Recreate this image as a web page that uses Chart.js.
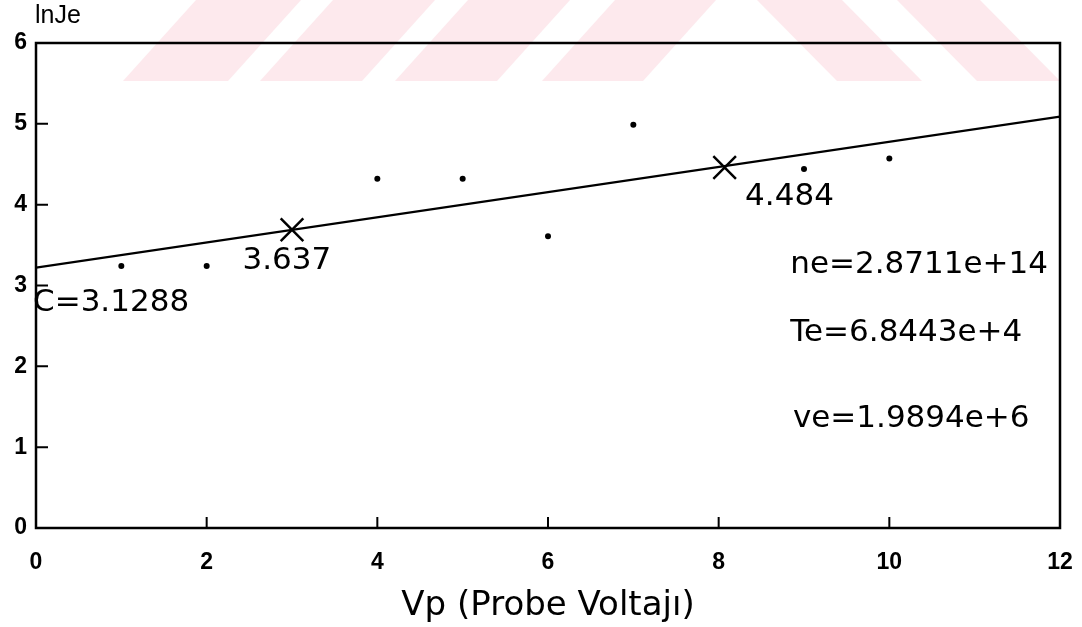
<!DOCTYPE html>
<html>
<head>
<meta charset="utf-8">
<script src="https://cdn.jsdelivr.net/npm/chart.js@4/dist/chart.umd.min.js"></script>
<style>
  html, body { margin: 0; padding: 0; background: #fff; }
  canvas { display: block; }
</style>
</head>
<body>
<canvas id="chart" width="1082" height="627"></canvas>
<script>
// Measured points (probe voltage vs ln of electron current density)
const vpValues = [1, 2, 4, 5, 6, 7, 9, 10];
const lnJeValues = [3.24, 3.24, 4.32, 4.32, 3.61, 4.99, 4.44, 4.57];

// Fitted straight line, end points
const fitX = [0, 12];
const fitY = [3.22, 5.09];

// The two marked points on the line
const markX = [3, 8.07];
const markY = [3.69, 4.46];

// Axis ranges
const xRange = [0, 12];
const yRange = [0, 6];

// Text written on the plot, anchored at data coordinates (left, baseline)
const noteTexts = ["3.637", "4.484", "C=3.1288", "ne=2.8711e+14", "Te=6.8443e+4", "ve=1.9894e+6"];
const noteX = [2.42, 8.31, -0.035, 8.84, 8.84, 8.87];
const noteY = [3.20, 4.00, 2.68, 3.15, 2.31, 1.25];

// Faint thesis watermark behind the top of the plot (page decoration, pixels)
const watermark = [
  [[123, 81], [228, 81], [301, 0], [196, 0]],
  [[260, 81], [362, 81], [435, 0], [333, 0]],
  [[395, 81], [497, 81], [570, 0], [468, 0]],
  [[542, 81], [643, 81], [716, 0], [615, 0]],
  [[837, 81], [922, 81], [842, 0], [757, 0]],
  [[977, 81], [1060, 81], [980, 0], [897, 0]],
];

const paper = {
  id: "paper",
  beforeDraw(chart) {
    const ctx = chart.ctx;
    ctx.save();
    ctx.fillStyle = "#fff";
    ctx.fillRect(0, 0, chart.width, chart.height);
    ctx.fillStyle = "#fde9ed";
    watermark.forEach(poly => {
      ctx.beginPath();
      poly.forEach(([x, y], i) => i ? ctx.lineTo(x, y) : ctx.moveTo(x, y));
      ctx.closePath();
      ctx.fill();
    });
    ctx.restore();
  }
};

// Box frame with inward tick marks, like the plotter output
const frame = {
  id: "frame",
  afterDatasetsDraw(chart) {
    const { ctx, chartArea: a, scales } = chart;
    ctx.save();
    ctx.strokeStyle = "#000";
    ctx.lineWidth = 2.5;
    ctx.strokeRect(a.left, a.top, a.right - a.left, a.bottom - a.top);
    ctx.lineWidth = 2;
    ctx.beginPath();
    scales.y.ticks.forEach(t => {
      if (t.value <= yRange[0] || t.value >= yRange[1]) return;
      const y = scales.y.getPixelForValue(t.value);
      ctx.moveTo(a.left, y);
      ctx.lineTo(a.left + 12, y);
    });
    scales.x.ticks.forEach(t => {
      if (t.value <= xRange[0] || t.value >= xRange[1]) return;
      const x = scales.x.getPixelForValue(t.value);
      ctx.moveTo(x, a.bottom);
      ctx.lineTo(x, a.bottom - 11);
    });
    ctx.stroke();
    ctx.restore();
  }
};

const notes = {
  id: "notes",
  afterDraw(chart) {
    const { ctx, scales, chartArea: a } = chart;
    ctx.save();
    ctx.fillStyle = "#000";
    ctx.textAlign = "left";
    ctx.textBaseline = "alphabetic";
    ctx.font = "31px 'DejaVu Sans'";
    noteTexts.forEach((txt, i) => {
      ctx.fillText(txt, scales.x.getPixelForValue(noteX[i]), scales.y.getPixelForValue(noteY[i]));
    });
    // y axis name above the axis
    ctx.font = "25px 'Liberation Sans'";
    ctx.textBaseline = "middle";
    ctx.fillText("lnJe", a.left - 1, 16);
    ctx.restore();
  }
};

const tickFont = { family: "'Liberation Sans'", size: 23, weight: "bold" };

new Chart(document.getElementById("chart"), {
  type: "scatter",
  data: {
    datasets: [
      {
        data: vpValues.map((v, i) => ({ x: v, y: lnJeValues[i] })),
        backgroundColor: "#000",
        borderColor: "#000",
        pointRadius: 3,
        borderWidth: 0
      },
      {
        data: markX.map((v, i) => ({ x: v, y: markY[i] })),
        pointStyle: "crossRot",
        pointRadius: 16,
        borderColor: "#000",
        borderWidth: 2.5
      },
      {
        data: fitX.map((v, i) => ({ x: v, y: fitY[i] })),
        showLine: true,
        borderColor: "#000",
        borderWidth: 2.3,
        pointRadius: 0
      }
    ]
  },
  options: {
    responsive: false,
    animation: false,
    layout: { padding: { top: 43, right: 22, left: 0, bottom: 0 } },
    plugins: { legend: { display: false }, tooltip: { enabled: false } },
    scales: {
      x: {
        type: "linear",
        min: xRange[0],
        max: xRange[1],
        ticks: { stepSize: 2, color: "#000", font: tickFont, padding: 21, maxRotation: 0 },
        grid: { display: false, drawTicks: false },
        border: { display: false },
        title: {
          display: true,
          text: "Vp (Probe Voltajı)",
          color: "#000",
          font: { family: "'DejaVu Sans'", size: 34 },
          padding: { top: 0, bottom: 0 }
        },
        afterFit: s => { s.height = 99; s.paddingLeft = 0; s.paddingRight = 0; }
      },
      y: {
        type: "linear",
        min: yRange[0],
        max: yRange[1],
        ticks: { stepSize: 1, color: "#000", font: tickFont, padding: 9 },
        grid: { display: false, drawTicks: false },
        border: { display: false },
        afterFit: s => { s.width = 36; s.paddingTop = 0; s.paddingBottom = 0; }
      }
    }
  },
  plugins: [paper, frame, notes]
});
</script>
</body>
</html>
